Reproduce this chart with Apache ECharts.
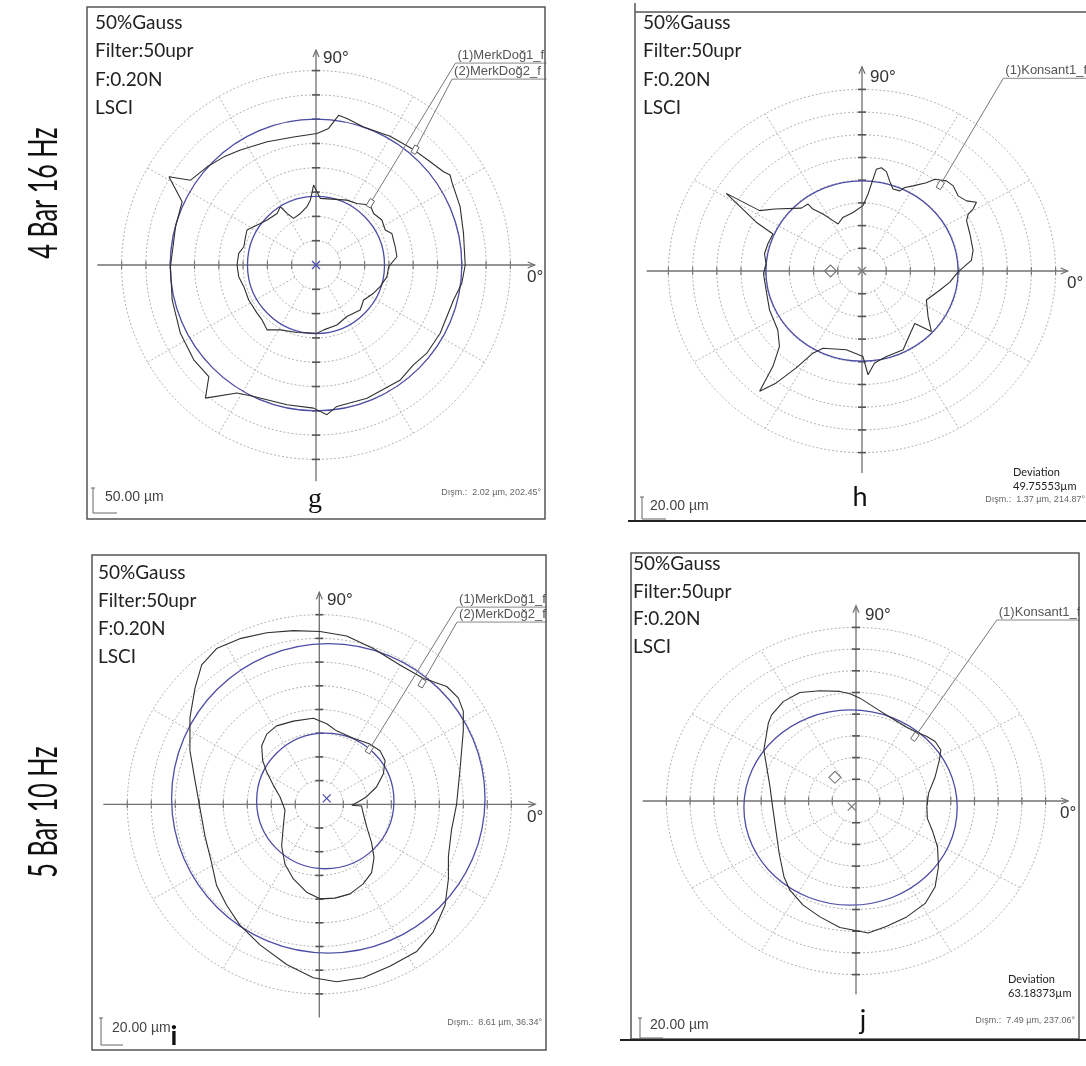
<!DOCTYPE html>
<html>
<head>
<meta charset="utf-8">
<script src="https://cdn.jsdelivr.net/npm/echarts@6/dist/echarts.min.js"></script>
<style>
  html, body { margin: 0; padding: 0; background: #ffffff; }
  #chart { width: 1086px; height: 1066px; }
</style>
</head>
<body>
<div id="chart"></div>
<script>
// Roundness profiles, in polar-grid divisions (x, y from the measuring centre).
const ringRadii = [1, 2, 3, 4, 5, 6, 7, 8];
const spokeAngles = [30, 60, 120, 150, 210, 240, 300, 330];
const axisTicks = [-8, -7, -6, -5, -4, -3, -2, -1, 1, 2, 3, 4, 5, 6, 7, 8];

// g: 4 Bar 16 Hz, MerkDoğ
const gProfileInner = [[2.99,-0.07],[3.33,0.34],[3.26,0.75],[3.12,1.30],[2.85,1.44],[2.71,1.85],[2.37,2.12],[2.23,2.47],[1.68,2.53],[1.27,2.67],[0.18,2.74],[0.07,2.95],[-0.10,3.29],[-0.23,2.67],[-0.37,2.40],[-0.64,2.12],[-0.92,1.92],[-1.19,2.12],[-1.47,2.40],[-1.60,2.12],[-2.01,1.85],[-2.29,1.71],[-2.70,1.51],[-2.84,1.44],[-2.90,1.16],[-2.97,0.75],[-3.18,0.48],[-3.25,0],[-3.18,-0.48],[-2.97,-0.89],[-2.77,-1.44],[-2.42,-1.99],[-2.22,-2.26],[-2.01,-2.67],[-1.47,-2.67],[-0.78,-2.78],[0.04,-2.81],[0.32,-2.67],[0.86,-2.47],[1.27,-2.12],[1.82,-1.85],[1.96,-1.44],[2.37,-1.16],[2.64,-0.89],[2.92,-0.48]];
const gProfileOuter = [[6.14,0],[6.07,1.30],[5.93,2.40],[5.59,3.42],[5.52,3.70],[5.25,3.84],[4.63,4.30],[4.01,4.75],[3.05,5.30],[1.96,5.68],[1.27,6.03],[0.93,6.16],[0.52,5.62],[0.04,5.41],[-0.92,5.27],[-2.01,5.07],[-3.11,4.73],[-3.79,4.45],[-4.48,4.04],[-5.16,3.49],[-6.05,3.63],[-5.51,2.60],[-5.78,1.58],[-5.99,-0.07],[-5.92,-1.44],[-5.58,-2.81],[-5.03,-3.90],[-4.41,-4.59],[-4.55,-5.48],[-3.25,-5.27],[-2.56,-5.41],[-1.19,-5.75],[-0.10,-5.89],[0.45,-6.16],[0.86,-5.82],[2.10,-5.48],[3.47,-4.73],[4.01,-4.11],[4.56,-3.63],[5.11,-2.81],[5.66,-1.44],[6.0,-0.75]];
const gFitCircles = [[0, 0, 2.82], [0, 0, 6.0]];           // [cx, cy, r]
const gMarks = [[0, 0, 0]];                                 // [x, y, 0 = centre cross / 1 = diamond]
const gCallouts = [[5.74, 8.31, 2.15, 2.40], [5.60, 7.65, 4.0, 4.6]];
const gCalloutLabels = ['(1)MerkDoğ1_f', '(2)MerkDoğ2_f'];

// h: 4 Bar 16 Hz, Konsant
const hProfile = [[3.97,-0.04],[4.52,0.47],[4.59,0.91],[4.46,1.63],[4.32,2.22],[4.39,2.51],[4.59,2.73],[4.73,3.03],[4.32,3.09],[3.97,3.31],[3.77,3.75],[3.49,3.97],[3.01,4.04],[2.66,3.89],[2.11,3.75],[1.77,3.68],[1.56,3.53],[1.28,3.61],[1.14,3.97],[1.01,4.38],[0.80,4.55],[0.59,4.48],[0.25,3.39],[0.04,2.88],[-0.37,2.58],[-0.79,2.36],[-0.99,2.07],[-1.20,2.22],[-1.61,2.51],[-2.03,2.73],[-2.23,2.95],[-2.51,2.77],[-3.61,2.73],[-4.23,2.66],[-5.61,3.42],[-4.37,2.15],[-3.68,1.63],[-3.89,1.20],[-4.03,0.76],[-3.96,0.32],[-4.07,-0.12],[-3.96,-0.85],[-3.82,-1.72],[-3.48,-2.60],[-3.41,-3.32],[-3.68,-4.20],[-4.23,-5.30],[-3.54,-4.93],[-2.72,-4.27],[-2.03,-3.62],[-1.61,-3.40],[-0.65,-3.47],[0.04,-3.77],[0.25,-4.57],[0.52,-4.05],[1.01,-3.77],[1.70,-3.47],[1.97,-2.81],[2.18,-2.31],[2.87,-2.67],[2.73,-2.01],[2.66,-1.28],[3.21,-0.85],[3.63,-0.49]];
const hFitCircles = [[0, 0, 3.97]];
const hMarks = [[0, 0, 0], [-1.30, 0, 1]];
const hCallouts = [[5.84, 8.49, 3.15, 3.64]];
const hCalloutLabels = ['(1)Konsant1_f'];

// i: 5 Bar 10 Hz, MerkDoğ
const iProfileOuter = [[5.72,0],[5.86,1.43],[6.0,3.10],[6.0,3.93],[5.79,4.49],[5.31,4.97],[4.33,5.32],[3.36,5.88],[2.25,6.57],[1.14,7.10],[0.03,7.29],[-1.08,7.33],[-2.19,7.24],[-3.31,6.99],[-4.28,6.57],[-4.90,5.88],[-5.18,4.90],[-5.39,3.65],[-5.39,2.26],[-5.18,1.01],[-5.0,0],[-4.76,-1.35],[-4.49,-2.46],[-4.28,-3.43],[-3.86,-4.26],[-3.31,-5.10],[-2.47,-5.93],[-1.36,-6.76],[-0.25,-7.32],[0.72,-7.49],[1.83,-7.32],[2.94,-6.83],[4.06,-6.21],[4.75,-5.38],[5.24,-4.26],[5.38,-3.15],[5.38,-2.18],[5.51,-1.07]];
const iProfileInner = [[1.35,-0.04],[1.76,-0.07],[1.83,-0.38],[1.97,-0.93],[2.18,-1.63],[2.28,-2.25],[2.18,-2.88],[1.83,-3.36],[1.28,-3.78],[0.65,-3.96],[0.03,-3.99],[-0.53,-3.71],[-1.08,-3.15],[-1.43,-2.53],[-1.57,-1.76],[-1.50,-0.93],[-1.43,-0.24],[-1.64,0.32],[-1.92,0.81],[-2.19,1.36],[-2.36,1.85],[-2.40,2.47],[-2.19,2.96],[-1.78,3.31],[-1.08,3.51],[-0.25,3.63],[0.31,3.40],[0.72,3.10],[1.42,2.79],[2.11,2.54],[2.53,2.26],[2.74,1.85],[2.67,1.29],[2.39,0.74],[1.97,0.32],[1.63,0.11]];
const iFitCircles = [[0.25, 0.14, 2.86], [0.375, 0.25, 6.53]];
const iMarks = [[0.31, 0.25, 0]];
const iCallouts = [[5.74, 8.32, 2.0, 2.18], [5.74, 7.69, 4.2, 4.96]];
const iCalloutLabels = ['(1)MerkDoğ1_f', '(2)MerkDoğ2_f'];

// j: 5 Bar 10 Hz, Konsant
const jProfile = [[2.99,-0.26],[3.06,0.35],[3.34,1.12],[3.52,1.89],[3.58,2.35],[3.34,2.74],[2.99,2.97],[2.56,3.17],[2.14,3.40],[1.44,3.86],[0.94,4.20],[0.17,4.74],[-0.25,4.94],[-0.68,5.05],[-1.52,5.08],[-2.37,5.0],[-3.07,4.58],[-3.56,3.97],[-3.70,3.58],[-3.77,3.12],[-3.89,2.35],[-3.77,1.58],[-3.63,0.66],[-3.52,-0.26],[-3.38,-1.34],[-3.24,-2.42],[-3.04,-3.49],[-2.79,-4.11],[-2.23,-4.80],[-1.52,-5.34],[-0.68,-5.83],[0.03,-5.98],[0.52,-6.08],[1.30,-5.77],[2.14,-5.34],[2.92,-4.72],[3.34,-3.95],[3.48,-3.03],[3.44,-2.11],[3.24,-1.42],[3.01,-0.80]];
const jFitCircles = [[-0.23, -0.30, 4.5]];
const jMarks = [[-0.18, -0.26, 0], [-0.89, 1.09, 1]];
const jCallouts = [[5.94, 8.34, 2.39, 2.81]];
const jCalloutLabels = ['(1)Konsant1_f'];

// Panel texts
const infoLines = ['50%Gauss', 'Filter:50upr', 'F:0.20N', 'LSCI'];
const rowTitles = ['4 Bar 16 Hz', '5 Bar 10 Hz'];
const panelLetters = ['g', 'h', 'i', 'j'];
const scaleTexts = ['50.00 µm', '20.00 µm', '20.00 µm', '20.00 µm'];
const eccTexts = ['Dışm.:  2.02 µm, 202.45°', 'Dışm.:  1.37 µm, 214.87°', 'Dışm.:  8.61 µm, 36.34°', 'Dışm.:  7.49 µm, 237.06°'];
const deviationTexts = [null, '49.75553µm', null, '63.18373µm'];

// Layout of the four polar plots (pixel centre and pixels per division)
const panels = [
  { cx: 316, cy: 265, sx: 24.3, sy: 24.3, ext: [-9, 9, -8.9, 8.85],
    profiles: [gProfileInner, gProfileOuter], circles: gFitCircles, marks: gMarks, markColor: '#4a4ab4',
    callouts: gCallouts, labels: gCalloutLabels },
  { cx: 862, cy: 271, sx: 24.2, sy: 22.7, ext: [-8.9, 8.5, -8.9, 9.0],
    profiles: [hProfile], circles: hFitCircles, marks: hMarks, markColor: '#777',
    callouts: hCallouts, labels: hCalloutLabels },
  { cx: 319.3, cy: 804.3, sx: 24.0, sy: 23.7, ext: [-9, 9, -9, 8.95],
    profiles: [iProfileOuter, iProfileInner], circles: iFitCircles, marks: iMarks, markColor: '#4a4ab4',
    callouts: iCallouts, labels: iCalloutLabels },
  { cx: 856, cy: 801, sx: 23.7, sy: 21.7, ext: [-9, 8.95, -8.9, 9.0],
    profiles: [jProfile], circles: jFitCircles, marks: jMarks, markColor: '#777',
    callouts: jCallouts, labels: jCalloutLabels }
];

const GRID_COLOR = '#b3b3b3';
const AXIS_COLOR = '#707070';
const PROFILE_COLOR = '#303030';
const FIT_COLOR = '#4d4da6';

const option = { animation: false, grid: [], xAxis: [], yAxis: [], series: [], graphic: [] };

panels.forEach((p, k) => {
  option.grid.push({ left: p.cx - 9 * p.sx, top: p.cy - 9 * p.sy, width: 18 * p.sx, height: 18 * p.sy });
  option.xAxis.push({ gridIndex: k, type: 'value', min: -9, max: 9, show: false });
  option.yAxis.push({ gridIndex: k, type: 'value', min: -9, max: 9, show: false });
  const on = { xAxisIndex: k, yAxisIndex: k, silent: true, clip: false };

  // dotted concentric rings
  option.series.push(Object.assign({}, on, {
    type: 'custom', z: 1, data: ringRadii.map(r => [r]),
    renderItem: (params, api) => {
      const r = api.value(0);
      const c = api.coord([0, 0]);
      const s = api.size([r, r]);
      return { type: 'ellipse', shape: { cx: c[0], cy: c[1], rx: s[0], ry: s[1] },
        style: { fill: 'none', stroke: GRID_COLOR, lineWidth: 1, lineDash: [2, 2] } };
    }
  }));

  // dotted radial spokes every 30 degrees
  option.series.push(Object.assign({}, on, {
    type: 'custom', z: 1, data: spokeAngles.map(a => [a]),
    renderItem: (params, api) => {
      const a = api.value(0) * Math.PI / 180;
      const r0 = ringRadii[0], r1 = ringRadii[ringRadii.length - 1];
      const p0 = api.coord([r0 * Math.cos(a), r0 * Math.sin(a)]);
      const p1 = api.coord([r1 * Math.cos(a), r1 * Math.sin(a)]);
      return { type: 'line', shape: { x1: p0[0], y1: p0[1], x2: p1[0], y2: p1[1] },
        style: { stroke: GRID_COLOR, lineWidth: 1, lineDash: [2, 2] } };
    }
  }));

  // main cross axes with arrows and division ticks
  option.series.push(Object.assign({}, on, {
    type: 'custom', z: 2, data: [[0, 0]],
    renderItem: (params, api) => {
      const L = api.coord([p.ext[0], 0]), R = api.coord([p.ext[1], 0]);
      const B = api.coord([0, p.ext[2]]), T = api.coord([0, p.ext[3]]);
      const st = { stroke: AXIS_COLOR, lineWidth: 1.3 };
      const children = [
        { type: 'line', shape: { x1: L[0], y1: L[1], x2: R[0], y2: R[1] }, style: st },
        { type: 'line', shape: { x1: B[0], y1: B[1], x2: T[0], y2: T[1] }, style: st },
        { type: 'polyline', shape: { points: [[R[0] - 7, R[1] - 3], [R[0], R[1]], [R[0] - 7, R[1] + 3]] }, style: { stroke: AXIS_COLOR, lineWidth: 1.2, fill: 'none' } },
        { type: 'polyline', shape: { points: [[T[0] - 3, T[1] + 7], [T[0], T[1]], [T[0] + 3, T[1] + 7]] }, style: { stroke: AXIS_COLOR, lineWidth: 1.2, fill: 'none' } }
      ];
      axisTicks.forEach(t => {
        const a = api.coord([t, 0]);
        children.push({ type: 'line', shape: { x1: a[0], y1: a[1] - 4, x2: a[0], y2: a[1] + 4 }, style: { stroke: '#7a7a7a', lineWidth: 1.2 } });
        const b = api.coord([0, t]);
        children.push({ type: 'line', shape: { x1: b[0] - 4, y1: b[1], x2: b[0] + 4, y2: b[1] }, style: { stroke: '#555', lineWidth: 1.6 } });
      });
      return { type: 'group', children };
    }
  }));

  // least-squares reference circles
  option.series.push(Object.assign({}, on, {
    type: 'custom', z: 3, data: p.circles,
    renderItem: (params, api) => {
      const c = api.coord([api.value(0), api.value(1)]);
      const s = api.size([api.value(2), api.value(2)]);
      return { type: 'ellipse', shape: { cx: c[0], cy: c[1], rx: s[0], ry: s[1] },
        style: { fill: 'none', stroke: FIT_COLOR, lineWidth: 1.3 } };
    }
  }));

  // measured profiles
  p.profiles.forEach(prof => {
    option.series.push(Object.assign({}, on, {
      type: 'line', z: 4, data: prof.concat([prof[0]]), showSymbol: false, symbol: 'none',
      lineStyle: { color: PROFILE_COLOR, width: 1.1 }
    }));
  });

  // centre cross and reference diamond
  option.series.push(Object.assign({}, on, {
    type: 'custom', z: 5, data: p.marks,
    renderItem: (params, api) => {
      const c = api.coord([api.value(0), api.value(1)]);
      if (api.value(2) === 1) {
        return { type: 'polygon', shape: { points: [[c[0] - 6, c[1]], [c[0], c[1] - 6], [c[0] + 6, c[1]], [c[0], c[1] + 6]] },
          style: { fill: 'none', stroke: '#777', lineWidth: 1.1 } };
      }
      const d = 4;
      return { type: 'group', children: [
        { type: 'line', shape: { x1: c[0] - d, y1: c[1] - d, x2: c[0] + d, y2: c[1] + d }, style: { stroke: p.markColor, lineWidth: 1.2 } },
        { type: 'line', shape: { x1: c[0] - d, y1: c[1] + d, x2: c[0] + d, y2: c[1] - d }, style: { stroke: p.markColor, lineWidth: 1.2 } }
      ] };
    }
  }));

  // profile callouts: leader line, small marker and name label
  option.series.push(Object.assign({}, on, {
    type: 'custom', z: 6, data: p.callouts,
    renderItem: (params, api) => {
      const a = api.coord([api.value(0), api.value(1)]);
      const t = api.coord([api.value(2), api.value(3)]);
      const dx = t[0] - a[0], dy = t[1] - a[1], len = Math.hypot(dx, dy);
      const ux = dx / len, uy = dy / len, px = -uy, py = ux;
      const m = [[t[0] + px * 2.5, t[1] + py * 2.5], [t[0] - px * 2.5, t[1] - py * 2.5],
                 [t[0] - ux * 8 - px * 2.5, t[1] - uy * 8 - py * 2.5], [t[0] - ux * 8 + px * 2.5, t[1] - uy * 8 + py * 2.5]];
      return { type: 'group', children: [
        { type: 'line', shape: { x1: a[0], y1: a[1], x2: t[0], y2: t[1] }, style: { stroke: '#777', lineWidth: 1 } },
        { type: 'polygon', shape: { points: m }, style: { fill: '#fff', stroke: '#666', lineWidth: 1 } },
        { type: 'line', shape: { x1: a[0], y1: a[1], x2: a[0] + 130, y2: a[1] }, style: { stroke: '#888', lineWidth: 1 } },
        { type: 'text', x: a[0] + 2, y: a[1] - 1,
          style: { text: p.labels[params.dataIndex], font: '13px "Liberation Sans", Arial, sans-serif', fill: '#555',
                   align: 'left', verticalAlign: 'bottom' } }
      ] };
    }
  }));
});

// ---- texts and frames ----
function txt(x, y, s, font, fill, align, valign, extra) {
  return Object.assign({ type: 'text', x: x, y: y, z: 100, silent: true,
    style: { text: s, font: font, fill: fill || '#222', align: align || 'left', verticalAlign: valign || 'middle',
             textAlign: align || 'left', textVerticalAlign: valign || 'middle' } }, extra || {});
}
function seg(x1, y1, x2, y2, stroke, w) {
  return { type: 'line', z: 101, silent: true, shape: { x1, y1, x2, y2 }, style: { stroke: stroke, lineWidth: w } };
}
const G = option.graphic;
const INFO_FONT = '19px Lato, "Open Sans", sans-serif';
const DEG_FONT = '17px "Liberation Sans", Arial, sans-serif';
const SMALL_FONT = '9px "Liberation Sans", Arial, sans-serif';
const SCALE_FONT = '14px "Liberation Sans", Arial, sans-serif';

// white margins that crop the overflowing callout names
G.push({ type: 'rect', z: 99, silent: true, shape: { x: 546.5, y: 0, width: 83, height: 1066 }, style: { fill: '#fff' } });
G.push({ type: 'rect', z: 99, silent: true, shape: { x: 1080, y: 545, width: 6, height: 500 }, style: { fill: '#fff' } });

// frames
G.push({ type: 'rect', z: 101, silent: true, shape: { x: 87, y: 7, width: 458, height: 512 }, style: { fill: 'none', stroke: '#555', lineWidth: 1.5 } });
G.push(seg(635, 12, 1086, 12, '#555', 1.5));
G.push(seg(635, 3, 635, 521, '#555', 1.5));
G.push(seg(628, 521, 1086, 521, '#222', 2));
G.push({ type: 'rect', z: 101, silent: true, shape: { x: 92, y: 555, width: 454, height: 495 }, style: { fill: 'none', stroke: '#555', lineWidth: 1.5 } });
G.push({ type: 'rect', z: 101, silent: true, shape: { x: 631, y: 553, width: 448, height: 486 }, style: { fill: 'none', stroke: '#555', lineWidth: 1.5 } });
G.push(seg(620, 1040, 1086, 1040, '#222', 2));

// info blocks
const infoPos = [[95, 22.7], [643, 22.7], [98, 573], [633, 564.3]];
const infoStep = [28.5, 28.5, 28.1, 27.5];
infoPos.forEach((pos, k) => {
  infoLines.forEach((s, n) => G.push(txt(pos[0], pos[1] + n * infoStep[k], s, INFO_FONT, '#222')));
});

// angle labels
[[323, 58], [870, 77], [327, 600], [865, 615]].forEach(pos => G.push(txt(pos[0], pos[1], '90°', DEG_FONT, '#333')));
[[527, 277], [1067, 283], [527, 817], [1060, 813]].forEach(pos => G.push(txt(pos[0], pos[1], '0°', DEG_FONT, '#333')));

// scale bars
const scaleBars = [[93, 488, 513, 117, 105, 497], [642, 497, 519, 666, 650, 506], [101, 1018, 1045, 123, 112, 1028], [640, 1018, 1038, 663, 650, 1025]];
scaleBars.forEach((b, k) => {
  G.push(seg(b[0], b[1], b[0], b[2], '#666', 1));
  G.push(seg(b[0] - 2, b[1], b[0] + 2, b[1], '#666', 1));
  G.push(seg(b[0], b[2], b[3], b[2], '#666', 1));
  G.push(txt(b[4], b[5], scaleTexts[k], SCALE_FONT, '#444'));
});

// eccentricity notes
[[541, 493], [1085, 500], [542, 1023], [1075, 1021]].forEach((pos, k) => G.push(txt(pos[0], pos[1], eccTexts[k], SMALL_FONT, '#666', 'right')));

// deviation notes
[[1013, 472], null, null, [1008, 979]].forEach((pos, k) => {
  if (!pos) return;
  const n = k === 0 ? 1 : 3;
  G.push(txt(pos[0], pos[1], 'Deviation', '11px Lato, sans-serif', '#222'));
  G.push(txt(pos[0], pos[1] + 14, deviationTexts[n], '11px Lato, sans-serif', '#222'));
});

// panel letters
G.push(txt(315, 500, panelLetters[0], '28px "Liberation Serif", serif', '#111', 'center'));
G.push(txt(860, 497, panelLetters[1], '27px Lato, sans-serif', '#111', 'center'));
G.push(txt(174, 1036, panelLetters[2], 'bold 27px Lato, sans-serif', '#111', 'center'));
G.push(txt(863, 1020, panelLetters[3], '27px Lato, sans-serif', '#111', 'center'));

// row titles
G.push(txt(44, 193, rowTitles[0], '40px Lato, sans-serif', '#111', 'center', 'middle', { rotation: Math.PI / 2, scaleX: 0.63 }));
G.push(txt(44, 812, rowTitles[1], '40px Lato, sans-serif', '#111', 'center', 'middle', { rotation: Math.PI / 2, scaleX: 0.63 }));

const chart = echarts.init(document.getElementById('chart'), null, { renderer: 'canvas' });
chart.setOption(option);
</script>
</body>
</html>
